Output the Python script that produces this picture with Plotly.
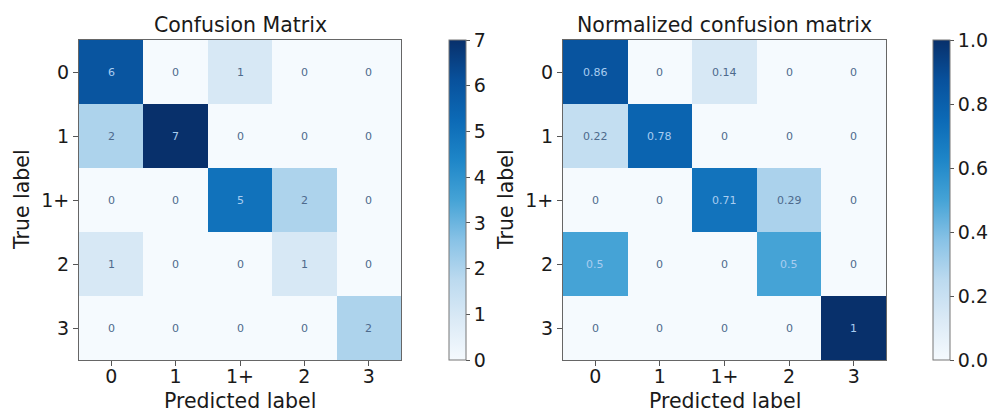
import plotly.graph_objects as go

labels = ["0", "1", "1+", "2", "3"]
counts = [
    [6, 0, 1, 0, 0],
    [2, 7, 0, 0, 0],
    [0, 0, 5, 2, 0],
    [1, 0, 0, 1, 0],
    [0, 0, 0, 0, 2],
]
normalized = [
    [0.86, 0, 0.14, 0, 0],
    [0.22, 0.78, 0, 0, 0],
    [0, 0, 0.71, 0.29, 0],
    [0.5, 0, 0, 0.5, 0],
    [0, 0, 0, 0, 1],
]
titles = ["Confusion Matrix", "Normalized confusion matrix"]
x_title = "Predicted label"
y_title = "True label"

# Blues-like scale, tuned to the slightly saturated look of the reference
cscale = [
    [0.0, "#f5fafe"], [0.125, "#dbeaf6"], [0.25, "#bcdaef"],
    [0.375, "#88c2e6"], [0.5, "#45a3d6"], [0.625, "#1e86c8"],
    [0.75, "#0c6ab6"], [0.875, "#08519c"], [1.0, "#08306b"],
]
FONT = "DejaVu Sans"
light_txt = "#a9cdf0"
dark_txt = "#4d6a8c"
TXT = "#1a1a1a"

W, H = 992, 413
top_px, bot_px = 40, 360
y0 = 1 - bot_px / H
y1 = 1 - top_px / H
panels = [
    dict(x0=79, x1=401, cb=449, z=counts, vmax=7, dtick=1, fmt="d", ylab=22),
    dict(x0=563, x1=886, cb=933, z=normalized, vmax=1.0, dtick=0.2, fmt=".1f", ylab=506),
]

fig = go.Figure()
annotations = []
for k, p in enumerate(panels):
    xa = "x" if k == 0 else "x2"
    ya = "y" if k == 0 else "y2"
    fig.add_trace(go.Heatmap(
        z=p["z"], x=list(range(5)), y=list(range(5)),
        colorscale=cscale, zmin=0, zmax=p["vmax"],
        xaxis=xa, yaxis=ya, hoverinfo="skip",
        colorbar=dict(
            x=p["cb"] / W, xanchor="left", xpad=0, ypad=0,
            y=(y0 + y1) / 2, yanchor="middle",
            len=bot_px - top_px, lenmode="pixels", thickness=17,
            outlinewidth=1, outlinecolor="#777",
            ticks="outside", ticklen=4, tickcolor="#555",
            dtick=p["dtick"], tick0=0, tickformat=p["fmt"],
            tickfont=dict(family=FONT, size=19, color=TXT),
        ),
    ))
    thresh = p["vmax"] / 2
    for i, row in enumerate(p["z"]):
        for j, v in enumerate(row):
            annotations.append(dict(
                x=j, y=i, xref=xa, yref=ya, text=f"{v:g}", showarrow=False,
                font=dict(family=FONT, size=11,
                          color=light_txt if v >= thresh else dark_txt),
            ))
    cx = (p["x0"] + p["x1"]) / 2 / W
    annotations.append(dict(
        x=cx, y=1 - 25 / H, xref="paper", yref="paper",
        text=titles[k], showarrow=False, xanchor="center", yanchor="middle",
        font=dict(family=FONT, size=20.5, color=TXT),
    ))
    annotations.append(dict(
        x=cx, y=1 - 401 / H, xref="paper", yref="paper",
        text=x_title, showarrow=False, xanchor="center", yanchor="middle",
        font=dict(family=FONT, size=20.5, color=TXT),
    ))
    annotations.append(dict(
        x=p["ylab"] / W, y=(y0 + y1) / 2, xref="paper", yref="paper",
        text=y_title, showarrow=False, xanchor="center", yanchor="middle",
        textangle=-90, font=dict(family=FONT, size=20.5, color=TXT),
    ))

axis_common = dict(
    showgrid=False, zeroline=False, showline=True, mirror=True,
    linecolor="#666", linewidth=1, ticks="outside", ticklen=5, tickcolor="#555",
    tickfont=dict(family=FONT, size=19, color=TXT),
    tickvals=list(range(5)), ticktext=labels,
)
for k, p in enumerate(panels):
    sx = "" if k == 0 else "2"
    fig.layout["xaxis" + sx] = dict(
        axis_common, domain=[p["x0"] / W, p["x1"] / W], range=[-0.5, 4.5],
        anchor="y" + sx, ticklabelstandoff=-6,
    )
    fig.layout["yaxis" + sx] = dict(
        axis_common, domain=[y0, y1], range=[4.5, -0.5], anchor="x" + sx,
    )

fig.update_layout(
    width=W, height=H, margin=dict(l=0, r=0, t=0, b=0),
    paper_bgcolor="white", plot_bgcolor="white",
    annotations=annotations, showlegend=False,
)
fig.write_html(
    "out.html",
    config={"displayModeBar": False},
    post_script="document.body.style.margin='0';document.body.style.overflow='hidden';",
)
